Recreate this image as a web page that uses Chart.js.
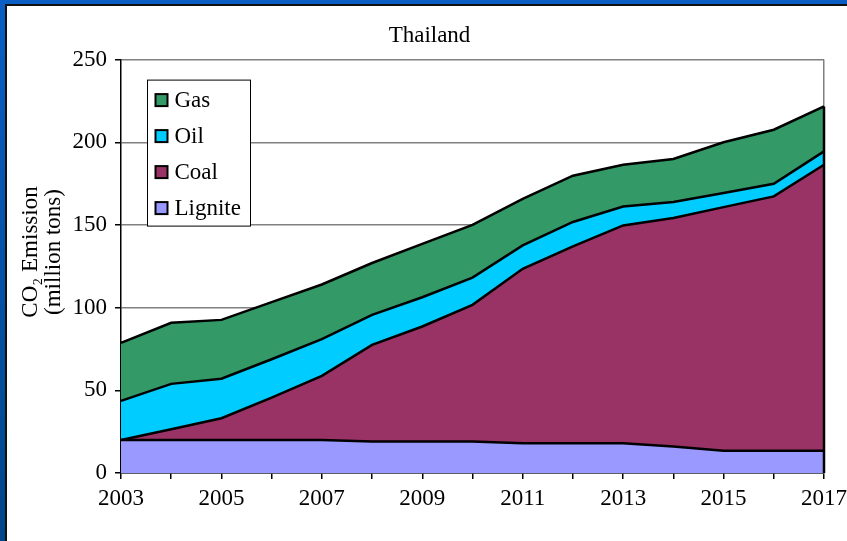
<!DOCTYPE html>
<html>
<head>
<meta charset="utf-8">
<title>Thailand CO2 Emission</title>
<script src="https://cdn.jsdelivr.net/npm/chart.js@4"></script>
<style>
  html, body { margin: 0; padding: 0; background: #fff; }
  #wrap { position: relative; width: 847px; height: 541px; overflow: hidden; background: #fff; }
  .band-top { position: absolute; left: 0; top: 0; width: 847px; height: 4px; background: #0a5ec4; }
  .band-left { position: absolute; left: 0; top: 0; width: 5px; height: 541px;
               background: linear-gradient(#0a5ec4, #00468a); }
  .line-top { position: absolute; left: 5px; top: 4px; width: 842px; height: 2px; background: #111; }
  .line-left { position: absolute; left: 5px; top: 4px; width: 2px; height: 537px; background: #111; }
  #chart { position: absolute; left: 0; top: 0; }
</style>
</head>
<body>
<div id="wrap">
  <div class="band-top"></div>
  <div class="band-left"></div>
  <div class="line-top"></div>
  <div class="line-left"></div>
  <canvas id="chart" width="847" height="541"></canvas>
</div>
<script>
  // Emission by fuel, million tons of CO2
  const years = ['2003', '2004', '2005', '2006', '2007', '2008', '2009', '2010',
                 '2011', '2012', '2013', '2014', '2015', '2016', '2017'];
  const lignite = [20, 20, 20, 20, 20, 19, 19, 19, 18, 18, 18, 16, 13.5, 13.5, 13.5];
  const coal = [0, 6.4, 13.1, 25.6, 38.7, 58.5, 69.6, 82.7, 105.5, 119, 131.7, 138.2, 147.3, 153.8, 172.9];
  const oil = [23.6, 27.5, 23.9, 23.2, 22.3, 18.1, 17.7, 16.5, 14.1, 14.8, 11.5, 9.7, 8.5, 7.6, 8.1];
  const gas = [35.1, 36.9, 35.6, 34.5, 33, 31.4, 32.3, 31.8, 28.2, 28, 25.2, 26, 30.7, 32.7, 27.2];
  const yearTicks = ['2003', '2005', '2007', '2009', '2011', '2013', '2015', '2017'];
  const yTicks = [0, 50, 100, 150, 200, 250];

  const FONT = 'Liberation Serif, Times New Roman, serif';
  const SIZE = 23;

  function area(label, values, color, fill) {
    return {
      label: label,
      data: values,
      backgroundColor: color,
      borderColor: '#000',
      borderWidth: 2.5,
      pointRadius: 0,
      tension: 0,
      fill: fill
    };
  }

  // legend box, y-axis caption and the black right edge of the stack
  const extras = {
    id: 'extras',
    afterDatasetsDraw(chart) {
      const ctx = chart.ctx;
      const x = chart.scales.x, y = chart.scales.y;
      const last = years.length - 1;
      let top = 0;
      chart.data.datasets.forEach(ds => { top += ds.data[last]; });
      ctx.save();
      ctx.strokeStyle = '#000';
      ctx.lineWidth = 2.5;
      ctx.beginPath();
      ctx.moveTo(x.getPixelForValue(last), y.getPixelForValue(0));
      ctx.lineTo(x.getPixelForValue(last), y.getPixelForValue(top));
      ctx.stroke();
      ctx.restore();
    },
    afterDraw(chart) {
      const ctx = chart.ctx;
      const area = chart.chartArea;
      ctx.save();

      // legend
      const bx = area.left + 26.5, by = area.top + 20.5, bw = 103, bh = 146;
      ctx.fillStyle = '#fff';
      ctx.fillRect(bx, by, bw, bh);
      ctx.strokeStyle = '#000';
      ctx.lineWidth = 1;
      ctx.strokeRect(bx, by, bw, bh);
      ctx.font = SIZE + 'px ' + FONT;
      ctx.textBaseline = 'middle';
      ctx.textAlign = 'left';
      const items = chart.data.datasets.slice().reverse();
      items.forEach((ds, i) => {
        const cy = by + 20 + i * 36;
        ctx.fillStyle = ds.backgroundColor;
        ctx.fillRect(bx + 8, cy - 6, 12, 12);
        ctx.lineWidth = 2;
        ctx.strokeStyle = '#000';
        ctx.strokeRect(bx + 8, cy - 6, 12, 12);
        ctx.fillStyle = '#000';
        ctx.fillText(ds.label, bx + 27, cy + 1);
      });

      // y-axis caption, two rotated lines
      ctx.translate(0, 252);
      ctx.rotate(-Math.PI / 2);
      ctx.textAlign = 'center';
      ctx.fillStyle = '#000';
      ctx.fillText('CO\u2082 Emission', 0, 31);
      ctx.fillText('(million tons)', 0, 54);
      ctx.restore();
    }
  };

  new Chart(document.getElementById('chart'), {
    type: 'line',
    data: {
      labels: years,
      datasets: [
        area('Lignite', lignite, '#9999ff', 'origin'),
        area('Coal', coal, '#993366', '-1'),
        area('Oil', oil, '#00ccff', '-1'),
        area('Gas', gas, '#339966', '-1')
      ]
    },
    options: {
      responsive: false,
      animation: false,
      layout: { padding: { top: 0, right: 0, bottom: 0, left: 12 } },
      plugins: {
        legend: { display: false },
        tooltip: { enabled: false },
        title: {
          display: true,
          text: 'Thailand',
          color: '#000',
          font: { family: FONT, size: SIZE, weight: 'normal' },
          padding: { top: 22, bottom: 10 }
        }
      },
      scales: {
        x: {
          offset: false,
          grid: {
            drawOnChartArea: true,
            color: ctx => ctx.index === years.length - 1 ? '#808080' : 'rgba(0,0,0,0)',
            lineWidth: 1.5,
            tickColor: '#000',
            tickLength: 6
          },
          border: { color: '#000', width: 1.5 },
          ticks: {
            autoSkip: false,
            maxRotation: 0,
            padding: 6,
            color: '#000',
            font: { family: FONT, size: SIZE },
            callback: function (value) {
              const lbl = this.getLabelForValue(value);
              return yearTicks.includes(lbl) ? lbl : '';
            }
          },
          afterFit: scale => {
            scale.height = 68;
            scale.paddingLeft = 0;
            scale.paddingRight = 23;
          }
        },
        y: {
          stacked: true,
          min: yTicks[0],
          max: yTicks[yTicks.length - 1],
          afterBuildTicks: scale => { scale.ticks = yTicks.map(v => ({ value: v })); },
          grid: {
            color: '#808080',
            lineWidth: 1.5,
            tickColor: '#000',
            tickLength: 6
          },
          border: { color: '#000', width: 1.5 },
          ticks: {
            padding: 8,
            color: '#000',
            font: { family: FONT, size: SIZE }
          },
          afterFit: scale => {
            scale.width = 109;
            scale.paddingTop = 0;
            scale.paddingBottom = 0;
          }
        }
      }
    },
    plugins: [extras]
  });
</script>
</body>
</html>
